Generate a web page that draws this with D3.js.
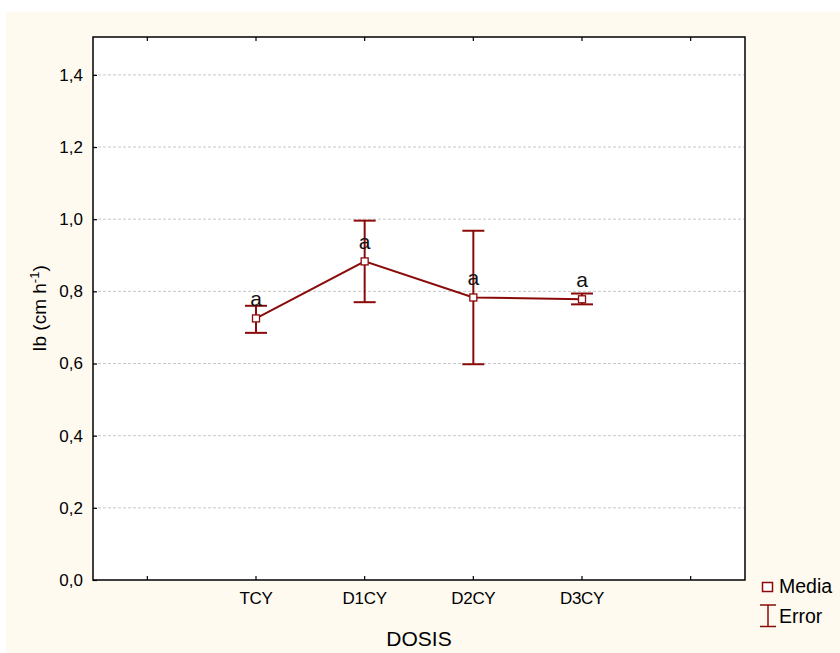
<!DOCTYPE html>
<html><head><meta charset="utf-8">
<script src="https://cdn.jsdelivr.net/npm/d3@7"></script>
<style>body{margin:0;background:#fff}svg{display:block}</style>
</head><body>
<svg id="c" width="840" height="653"></svg>
<script>
const slots = ["s0","TCY","D1CY","D2CY","D3CY","s5"];
const categories = ["TCY","D1CY","D2CY","D3CY"];
const means = [0.725, 0.883, 0.783, 0.778];
const upper = [0.760, 0.996, 0.968, 0.794];
const lower = [0.685, 0.770, 0.598, 0.764];
const letters = ["a","a","a","a"];
const yTicks = [0,0.2,0.4,0.6,0.8,1.0,1.2,1.4];
const yTickLabels = ["0,0","0,2","0,4","0,6","0,8","1,0","1,2","1,4"];

const svg = d3.select("#c");
const red = "#8b0a0a";
const font = "Arial, 'Liberation Sans', sans-serif";
svg.append("rect").attr("x",6).attr("y",12).attr("width",834).attr("height",641).attr("fill","#fffaf0");

const L=93,R=745,T=37,B=580;
svg.append("rect").attr("x",L).attr("y",T).attr("width",R-L).attr("height",B-T).attr("fill","#fff");

const x = d3.scaleBand().domain(slots).range([L,R]);
const xc = d => x(d)+x.bandwidth()/2;
const y = d3.scaleLinear().domain([0,1.505]).range([B,T]);

// grid
svg.append("g").selectAll("line").data(yTicks.slice(1)).join("line")
  .attr("x1",L).attr("x2",R).attr("y1",d=>y(d)).attr("y2",d=>y(d))
  .attr("stroke","#c8c8c8").attr("stroke-width",1).attr("stroke-dasharray","3,2");

// frame
svg.append("rect").attr("x",L).attr("y",T).attr("width",R-L).attr("height",B-T)
  .attr("fill","none").attr("stroke","#000").attr("stroke-width",1.5);

// y axis
const yAxis = d3.axisLeft(y).tickValues(yTicks).tickFormat((d,i)=>yTickLabels[i]).tickSize(-4).tickPadding(10);
const gy = svg.append("g").attr("transform",`translate(${L},0)`).call(yAxis);
gy.select(".domain").remove();
gy.selectAll("line").attr("stroke","#000").attr("stroke-width",1.2);
gy.selectAll("text").attr("font-family",font).attr("font-size",17).attr("fill","#000");

// x axis ticks (bottom and top inward)
const xAxis = d3.axisBottom(x).tickSize(-4).tickPadding(12).tickFormat(d=>categories.includes(d)?d:"");
const gx = svg.append("g").attr("transform",`translate(0,${B})`).call(xAxis);
gx.select(".domain").remove();
gx.selectAll("line").attr("stroke","#000").attr("stroke-width",1.2);
gx.selectAll("text").attr("font-family",font).attr("font-size",17).attr("fill","#000").attr("letter-spacing","-0.3");
const gxt = svg.append("g").attr("transform",`translate(0,${T})`).call(d3.axisTop(x).tickSize(-4).tickFormat(""));
gxt.select(".domain").remove();
gxt.selectAll("line").attr("stroke","#000").attr("stroke-width",1.2);

// axis titles
svg.append("text").attr("x",(L+R)/2).attr("y",646).attr("text-anchor","middle")
  .attr("font-family",font).attr("font-size",21).text("DOSIS");
const yl = svg.append("text").attr("transform",`translate(46,${(T+B)/2}) rotate(-90)`).attr("text-anchor","middle")
  .attr("font-family",font).attr("font-size",19);
yl.append("tspan").text("Ib (cm h");
yl.append("tspan").attr("dy",-7).attr("font-size",13).text("-1");
yl.append("tspan").attr("dy",7).text(")");

// line
const pts = categories.map((c,i)=>[xc(c), y(means[i])]);
svg.append("path").attr("d",d3.line()(pts)).attr("fill","none").attr("stroke",red).attr("stroke-width",2);

// error bars
const eg = svg.append("g").attr("stroke",red).attr("stroke-width",2);
categories.forEach((c,i)=>{
  const cx=xc(c);
  eg.append("line").attr("x1",cx).attr("x2",cx).attr("y1",y(upper[i])).attr("y2",y(lower[i]));
  eg.append("line").attr("x1",cx-11).attr("x2",cx+11).attr("y1",y(upper[i])).attr("y2",y(upper[i]));
  eg.append("line").attr("x1",cx-11).attr("x2",cx+11).attr("y1",y(lower[i])).attr("y2",y(lower[i]));
});
// markers
svg.append("g").selectAll("rect").data(categories).join("rect")
  .attr("x",(d)=>xc(d)-3.5).attr("y",(d,i)=>y(means[i])-3.5).attr("width",7).attr("height",7)
  .attr("fill","#fff").attr("stroke",red).attr("stroke-width",1.3);
// letters
svg.append("g").selectAll("text").data(categories).join("text")
  .attr("x",d=>xc(d)).attr("y",(d,i)=>y(means[i])-12).attr("text-anchor","middle")
  .attr("font-family",font).attr("font-size",21).attr("fill","#111").text((d,i)=>letters[i]);

// legend
svg.append("rect").attr("x",762.5).attr("y",582.5).attr("width",10).attr("height",9).attr("fill","#fff").attr("stroke",red).attr("stroke-width",1.5);
svg.append("text").attr("x",779).attr("y",593).attr("font-family",font).attr("font-size",19.5).text("Media");
const le = svg.append("g").attr("stroke",red).attr("stroke-width",1.5);
le.append("line").attr("x1",768).attr("x2",768).attr("y1",605).attr("y2",626.5);
le.append("line").attr("x1",760).attr("x2",776).attr("y1",605).attr("y2",605);
le.append("line").attr("x1",760).attr("x2",776).attr("y1",626.5).attr("y2",626.5);
svg.append("text").attr("x",779).attr("y",623).attr("font-family",font).attr("font-size",19.5).text("Error");
</script>
</body></html>
